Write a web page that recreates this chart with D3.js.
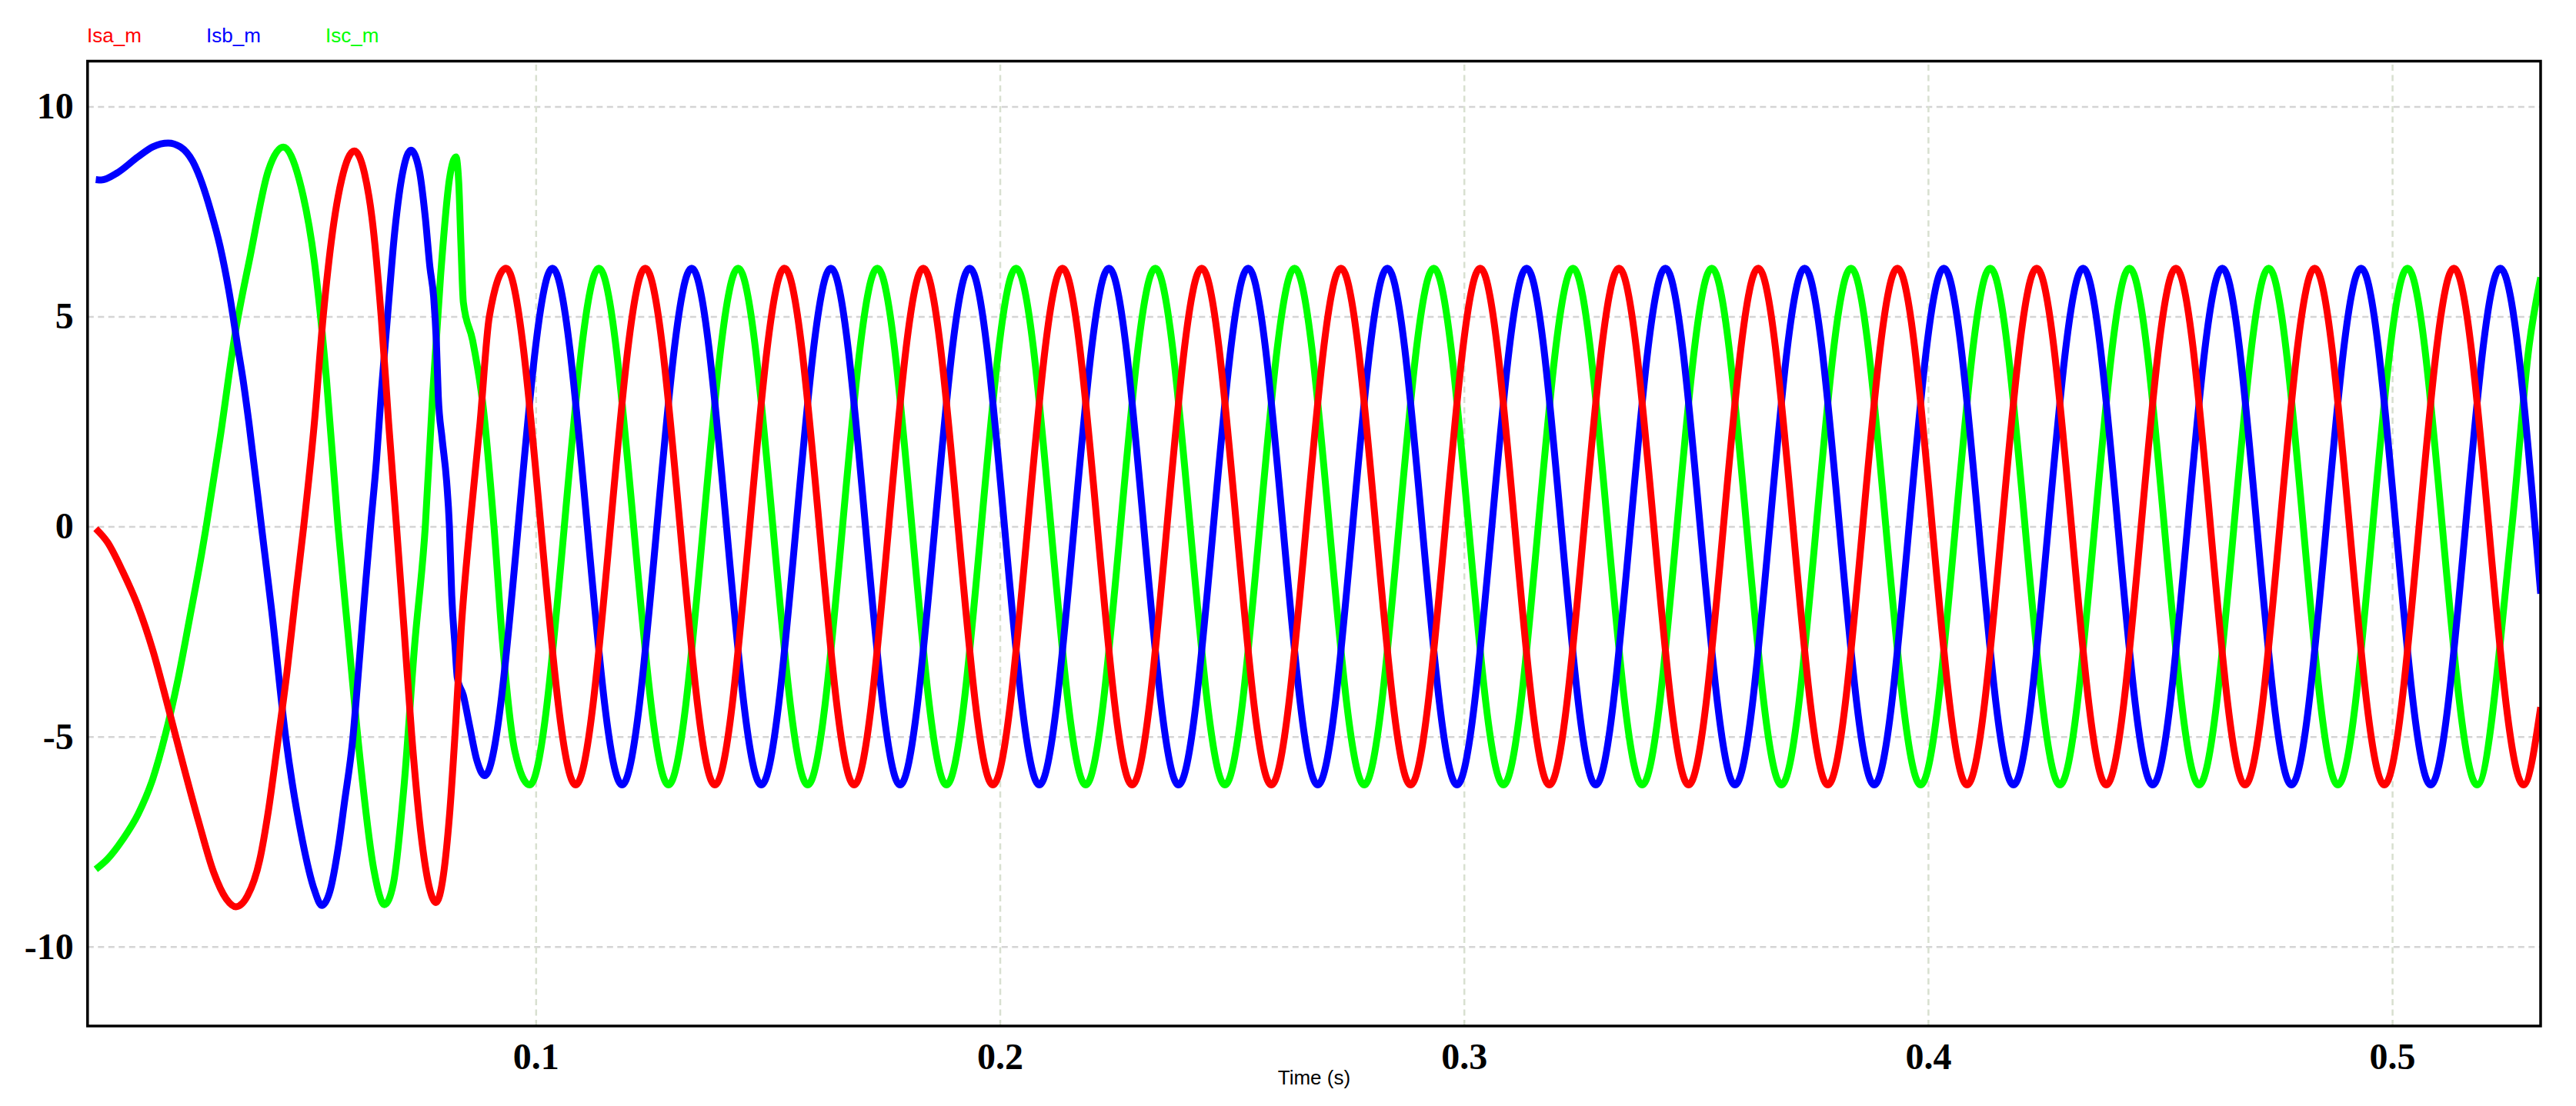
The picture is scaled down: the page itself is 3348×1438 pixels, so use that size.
<!DOCTYPE html>
<html><head><meta charset="utf-8">
<script src="https://cdn.jsdelivr.net/npm/d3@7"></script>
<style>html,body{margin:0;padding:0;background:#fff;} svg{display:block;}</style>
</head><body>
<svg id="chart" width="3348" height="1438"></svg>
<script>
// ---------- data ----------
const seriesNames = ["Isa_m", "Isb_m", "Isc_m"];
const seriesColors = ["#ff0000", "#0000ff", "#00ff00"];
const timeTicks = [0.1, 0.2, 0.3, 0.4, 0.5];
const valueTicks = [-10, -5, 0, 5, 10];
const timeDomain = [0.00343, 0.53198];
const valueDomain = [-11.889, 11.078];
const axisTitle = "Time (s)";

// Isa_m : [time s, current A]
const isa = [
  [0.0052,-0.05],[0.0077,-0.37],[0.0110,-1.07],[0.0143,-1.9],[0.0175,-2.95],[0.0208,-4.3],
  [0.0241,-5.7],[0.0274,-7.04],[0.0306,-8.23],[0.0333,-8.86],[0.0354,-9.05],[0.0379,-8.79],
  [0.0405,-7.95],[0.0424,-6.76],[0.0444,-5.14],[0.0464,-3.46],[0.0483,-1.6],[0.0500,0],
  [0.0523,2.47],[0.0542,5.0],[0.0562,7.0],[0.0582,8.27],[0.0609,8.94],[0.0631,8.41],
  [0.0647,7.36],[0.0667,5.0],[0.0683,2.47],[0.0700,0],[0.0716,-2.4],[0.0733,-5.0],
  [0.0752,-7.25],[0.0772,-8.65],[0.0785,-8.95],[0.0801,-8.3],[0.0814,-6.9],[0.0828,-4.6],
  [0.0839,-2.5],[0.0858,0],[0.0880,2.47],[0.0900,5.0],
  [0.0936,6.15],[0.1086,-6.15],[0.1236,6.15],[0.1386,-6.15],[0.1536,6.15],[0.1686,-6.15],
  [0.1835,6.15],[0.1985,-6.15],[0.2135,6.15],[0.2285,-6.15],[0.2435,6.15],[0.2585,-6.15],
  [0.2735,6.15],[0.2885,-6.15],[0.3035,6.15],[0.3184,-6.15],[0.3334,6.15],[0.3484,-6.15],
  [0.3634,6.15],[0.3784,-6.15],[0.3934,6.15],[0.4084,-6.15],[0.4234,6.15],[0.4384,-6.15],
  [0.4534,6.15],[0.4683,-6.15],[0.4833,6.15],[0.4983,-6.15],[0.5133,6.15],[0.5283,-6.15],
  [0.5320,-4.3]
];

// Isb_m
const isb = [
  [0.0052,8.26],[0.0064,8.25],[0.0097,8.41],[0.0143,8.80],[0.0175,9.04],[0.0208,9.13],
  [0.0234,9.04],[0.0261,8.69],[0.0280,8.20],[0.0300,7.50],[0.0320,6.66],[0.0339,5.60],
  [0.0359,4.20],[0.0369,3.52],[0.0382,2.47],[0.0409,0],[0.0431,-2.0],[0.0461,-5.0],
  [0.0497,-7.46],[0.0523,-8.65],[0.0539,-9.02],[0.0556,-8.7],[0.0575,-7.6],[0.0588,-6.55],
  [0.0605,-5.14],[0.0621,-3.04],[0.0634,-1.28],[0.0644,0],[0.0657,1.6],[0.0667,3.17],
  [0.0680,4.92],[0.0696,7.0],[0.0713,8.41],[0.0731,8.96],[0.0749,8.48],[0.0762,7.36],
  [0.0772,6.17],[0.0780,5.47],[0.0786,4.36],[0.0790,3.1],[0.0798,2.12],[0.0808,1.07],
  [0.0814,0],[0.0819,-1.64],[0.0826,-2.83],[0.0831,-3.6],[0.0844,-4.02],[0.0857,-4.72],
  [0.0873,-5.56],[0.0890,-5.93],
  [0.1036,6.15],[0.1186,-6.15],[0.1336,6.15],[0.1486,-6.15],[0.1636,6.15],[0.1785,-6.15],
  [0.1935,6.15],[0.2085,-6.15],[0.2235,6.15],[0.2385,-6.15],[0.2535,6.15],[0.2685,-6.15],
  [0.2835,6.15],[0.2985,-6.15],[0.3135,6.15],[0.3284,-6.15],[0.3434,6.15],[0.3584,-6.15],
  [0.3734,6.15],[0.3884,-6.15],[0.4034,6.15],[0.4184,-6.15],[0.4334,6.15],[0.4484,-6.15],
  [0.4634,6.15],[0.4783,-6.15],[0.4933,6.15],[0.5083,-6.15],[0.5233,6.15],[0.5320,-1.6]
];

// Isc_m
const isc = [
  [0.0052,-8.16],[0.0077,-7.92],[0.0110,-7.45],[0.0143,-6.85],[0.0175,-6.0],[0.0202,-4.95],
  [0.0228,-3.7],[0.0254,-2.2],[0.0280,-0.65],[0.0290,0],[0.0320,2.12],[0.0352,4.57],
  [0.0385,6.45],[0.0424,8.48],[0.0456,9.03],[0.0490,8.27],[0.0523,6.31],[0.0549,3.52],
  [0.0574,0],[0.0595,-2.48],[0.0621,-5.49],[0.0651,-8.16],[0.0674,-9.0],[0.0693,-8.51],
  [0.0716,-6.2],[0.0739,-2.83],[0.0762,0],[0.0778,3.17],[0.0795,5.97],[0.0814,8.27],
  [0.0828,8.8],[0.0834,8.2],[0.0839,6.66],[0.0844,5.34],[0.0864,4.43],[0.0887,2.82],
  [0.0910,0],[0.0929,-2.83],[0.0955,-5.35],
  [0.0987,-6.15],[0.1136,6.15],[0.1286,-6.15],[0.1436,6.15],[0.1586,-6.15],[0.1736,6.15],
  [0.1885,-6.15],[0.2035,6.15],[0.2185,-6.15],[0.2335,6.15],[0.2485,-6.15],[0.2635,6.15],
  [0.2785,-6.15],[0.2935,6.15],[0.3085,-6.15],[0.3235,6.15],[0.3384,-6.15],[0.3534,6.15],
  [0.3684,-6.15],[0.3834,6.15],[0.3984,-6.15],[0.4134,6.15],[0.4284,-6.15],[0.4434,6.15],
  [0.4584,-6.15],[0.4734,6.15],[0.4883,-6.15],[0.5033,6.15],[0.5183,-6.15],[0.5258,0],
  [0.5295,4.3],[0.5320,5.93]
];

const seriesData = [isa, isb, isc];

// ---------- layout ----------
const plot = {left: 113.8, right: 3302, top: 79.5, bottom: 1334};
const svg = d3.select("#chart");
svg.append("rect").attr("width", 3348).attr("height", 1438).attr("fill", "#fff");

const x = d3.scaleLinear().domain(timeDomain).range([plot.left, plot.right]);
const y = d3.scaleLinear().domain(valueDomain).range([plot.bottom, plot.top]);
const pw = plot.right - plot.left, ph = plot.bottom - plot.top;

// grid + tick labels via axes
const yAxis = d3.axisLeft(y).tickValues(valueTicks).tickSize(-pw).tickPadding(18)
  .tickFormat(d => String(d));
const gy = svg.append("g").attr("transform", `translate(${plot.left},0)`).call(yAxis);
gy.select(".domain").remove();
gy.selectAll(".tick line").attr("stroke", "#d4d4d4").attr("stroke-width", 2.5)
  .attr("stroke-dasharray", "8,5.5");
gy.selectAll(".tick text").attr("font-family", "'Liberation Serif','Times New Roman',serif")
  .attr("font-weight", "bold").attr("font-size", 48).attr("fill", "#000");

const xAxis = d3.axisBottom(x).tickValues(timeTicks).tickSize(-ph).tickPadding(22)
  .tickFormat(d3.format(".1f"));
const gx = svg.append("g").attr("transform", `translate(0,${plot.bottom})`).call(xAxis);
gx.select(".domain").remove();
gx.selectAll(".tick line").attr("stroke", "#d8e0d0").attr("stroke-width", 2.5)
  .attr("stroke-dasharray", "8,5.5");
gx.selectAll(".tick text").attr("font-family", "'Liberation Serif','Times New Roman',serif")
  .attr("font-weight", "bold").attr("font-size", 48).attr("fill", "#000");

// clip
svg.append("clipPath").attr("id", "pc").append("rect")
  .attr("x", plot.left).attr("y", plot.top).attr("width", pw).attr("height", ph);

const line = d3.line().x(d => x(d[0])).y(d => y(d[1])).curve(d3.curveMonotoneX);
const lg = svg.append("g").attr("clip-path", "url(#pc)");
// draw Isc first, Isa last (Isa on top)
[2, 1, 0].forEach(i => {
  lg.append("path").datum(seriesData[i]).attr("d", line).attr("fill", "none")
    .attr("stroke", seriesColors[i]).attr("stroke-width", 9)
    .attr("stroke-linejoin", "round").attr("stroke-linecap", "butt");
});

// border
svg.append("rect").attr("x", plot.left).attr("y", plot.top).attr("width", pw).attr("height", ph)
  .attr("fill", "none").attr("stroke", "#000").attr("stroke-width", 3.5);

// legend
const legendX = [113, 268, 423];
seriesNames.forEach((n, i) => {
  svg.append("text").attr("x", legendX[i]).attr("y", 55).text(n)
    .attr("font-family", "'Liberation Sans',Arial,sans-serif").attr("font-size", 26)
    .attr("fill", seriesColors[i]);
});

// axis title
svg.append("text").attr("x", (plot.left + plot.right) / 2).attr("y", 1410)
  .attr("text-anchor", "middle").text(axisTitle)
  .attr("font-family", "'Liberation Sans',Arial,sans-serif").attr("font-size", 26).attr("fill", "#000");
</script>
</body></html>
